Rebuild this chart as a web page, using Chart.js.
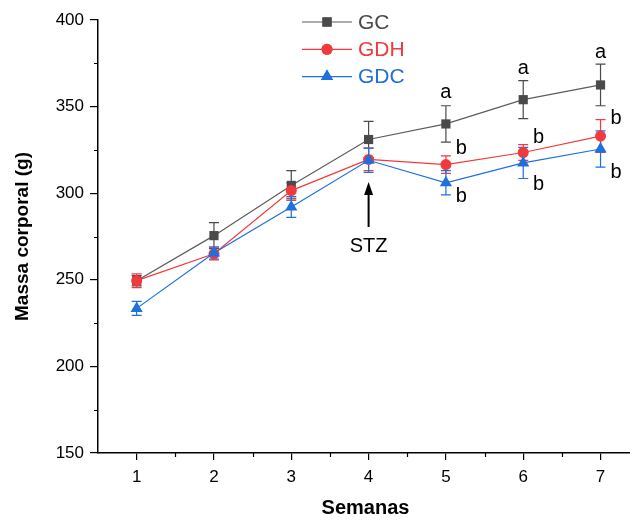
<!DOCTYPE html>
<html>
<head>
<meta charset="utf-8">
<script src="https://cdn.jsdelivr.net/npm/chart.js@4/dist/chart.umd.min.js"></script>
<style>
  html, body { margin: 0; padding: 0; background: #fff; overflow: hidden; }
  #wrap { width: 640px; height: 520px; }
</style>
</head>
<body>
<div id="wrap"><canvas id="massa"></canvas></div>
<script>
const semanas = [1, 2, 3, 4, 5, 6, 7]

const gc = [249.5, 275.5, 304.5, 331, 340, 354, 362.5]
const gcErr = [3, 7.5, 8.5, 10.5, 10.5, 11, 12]
const gdh = [249.5, 265, 301.5, 319.5, 316.5, 323.5, 333]
const gdhErr = [4, 3.5, 4.5, 6.5, 5, 4.5, 9.5]
const gdc = [233.5, 265.5, 292, 319, 306, 317.5, 325.5]
const gdcErr = [4, 3.5, 6, 7, 7, 9, 10.5]

const yTicks = [150, 200, 250, 300, 350, 400]
const xTicks = [1, 2, 3, 4, 5, 6, 7]

// letras de significancia: [semana, valor, texto]
const letras = [
    [5, 358, 'a'], [5.2, 326, 'b'], [5.2, 298, 'b'],
    [6, 372, 'a'], [6.2, 332, 'b'], [6.2, 305, 'b'],
    [7, 381, 'a'], [7.2, 343, 'b'], [7.2, 312, 'b']
]

const corGC = '#4a4a4a'
const corGDH = '#f03a3d'
const corGDC = '#1f6fdf'
const fonte = '"Liberation Sans", Arial, sans-serif'

const series = [
    { label: 'GC', data: gc, err: gcErr, color: corGC, line: '#5c5c5c', style: 'rect', r: 6.5, order: 3 },
    { label: 'GDH', data: gdh, err: gdhErr, color: corGDH, line: corGDH, style: 'circle', r: 5.5, order: 2 },
    { label: 'GDC', data: gdc, err: gdcErr, color: corGDC, line: corGDC, style: 'triangle', r: 7, order: 1 }
]

const errorBars = {
    id: 'errorBars',
    beforeDatasetsDraw(chart) {
        const { ctx, scales: { x, y } } = chart
        ctx.save()
        ctx.lineWidth = 1.2
        series.forEach(s => {
            ctx.strokeStyle = s.color
            s.data.forEach((v, i) => {
                const px = x.getPixelForValue(semanas[i])
                const top = y.getPixelForValue(v + s.err[i])
                const bot = y.getPixelForValue(v - s.err[i])
                ctx.beginPath()
                ctx.moveTo(px, top); ctx.lineTo(px, bot)
                ctx.moveTo(px - 5, top); ctx.lineTo(px + 5, top)
                ctx.moveTo(px - 5, bot); ctx.lineTo(px + 5, bot)
                ctx.stroke()
            })
        })
        ctx.restore()
    }
}

const extras = {
    id: 'extras',
    afterDraw(chart) {
        const { ctx, scales: { x, y } } = chart
        ctx.save()

        // ticks menores
        ctx.strokeStyle = '#000'
        ctx.lineWidth = 1.2
        ctx.beginPath()
        for (let v = 175; v < 400; v += 50) {
            const py = Math.round(y.getPixelForValue(v)) + 0.5
            ctx.moveTo(x.left - 4, py); ctx.lineTo(x.left, py)
        }
        for (let v = 1.5; v < 7.5; v += 1) {
            const px = Math.round(x.getPixelForValue(v)) + 0.5
            ctx.moveTo(px, y.bottom); ctx.lineTo(px, y.bottom + 4)
        }
        ctx.stroke()

        // letras
        ctx.fillStyle = '#000'
        ctx.font = '20px ' + fonte
        ctx.textAlign = 'center'
        ctx.textBaseline = 'middle'
        letras.forEach(([sx, v, t]) => ctx.fillText(t, x.getPixelForValue(sx), y.getPixelForValue(v)))

        // seta STZ
        const ax = x.getPixelForValue(4)
        const tip = y.getPixelForValue(306.5)
        const tail = y.getPixelForValue(280.5)
        ctx.lineWidth = 2
        ctx.beginPath()
        ctx.moveTo(ax, tail); ctx.lineTo(ax, tip + 8)
        ctx.stroke()
        ctx.beginPath()
        ctx.moveTo(ax, tip); ctx.lineTo(ax - 4.5, tip + 13); ctx.lineTo(ax + 4.5, tip + 13)
        ctx.closePath(); ctx.fill()
        ctx.font = '20px ' + fonte
        ctx.fillText('STZ', ax, y.getPixelForValue(269.5))

        // legenda
        ctx.font = '21px ' + fonte
        ctx.textAlign = 'left'
        series.forEach((s, i) => {
            const ly = 22 + i * 27.3
            ctx.strokeStyle = s.line
            ctx.lineWidth = 1.2
            ctx.beginPath(); ctx.moveTo(302, ly); ctx.lineTo(352, ly); ctx.stroke()
            ctx.fillStyle = s.color
            Chart.helpers.drawPoint(ctx, { pointStyle: s.style, radius: s.r, borderWidth: 0 }, 327, ly)
            ctx.fill()
            ctx.fillText(s.label, 358, ly + 1)
        })
        ctx.restore()
    }
}

const context = document.getElementById('massa').getContext('2d')

const chart = new Chart(context, {
    type: 'line',
    data: {
        datasets: series.map(s => ({
            label: s.label,
            data: s.data.map((v, i) => ({ x: semanas[i], y: v })),
            borderColor: s.line,
            borderWidth: 1.2,
            backgroundColor: s.color,
            pointBackgroundColor: s.color,
            pointBorderWidth: 0,
            pointStyle: s.style,
            pointRadius: s.r,
            pointHoverRadius: s.r,
            order: s.order,
            tension: 0
        }))
    },
    options: {
        responsive: true,
        maintainAspectRatio: false,
        animation: false,
        layout: { padding: { top: 20, right: 0, left: 0, bottom: 0 } },
        plugins: { legend: { display: false }, tooltip: { enabled: false } },
        scales: {
            x: {
                type: 'linear',
                min: 0.5,
                max: 7.42,
                afterBuildTicks: axis => { axis.ticks = xTicks.map(v => ({ value: v })) },
                afterFit: axis => { axis.height = 67 },
                border: { color: '#000', width: 1.5 },
                grid: { drawOnChartArea: false, tickLength: 7, color: '#000', lineWidth: 1.2 },
                ticks: {
                    color: '#000',
                    padding: 7,
                    font: { family: fonte, size: 17 }
                },
                title: {
                    display: true,
                    text: 'Semanas',
                    color: '#000',
                    font: { family: fonte, size: 20, weight: 'bold' },
                    padding: { top: 0, bottom: 0 }
                }
            },
            y: {
                min: 150,
                max: 400,
                afterBuildTicks: axis => { axis.ticks = yTicks.map(v => ({ value: v })) },
                afterFit: axis => { axis.width = 98 },
                border: { color: '#000', width: 1.5 },
                grid: { drawOnChartArea: false, tickLength: 8, color: '#000', lineWidth: 1.2 },
                ticks: {
                    color: '#000',
                    padding: 6,
                    font: { family: fonte, size: 17 }
                },
                title: {
                    display: true,
                    text: 'Massa corporal (g)',
                    color: '#000',
                    font: { family: fonte, size: 19, weight: 'bold' },
                    padding: { top: 11, bottom: 0 }
                }
            }
        }
    },
    plugins: [errorBars, extras]
})
</script>
</body>
</html>
